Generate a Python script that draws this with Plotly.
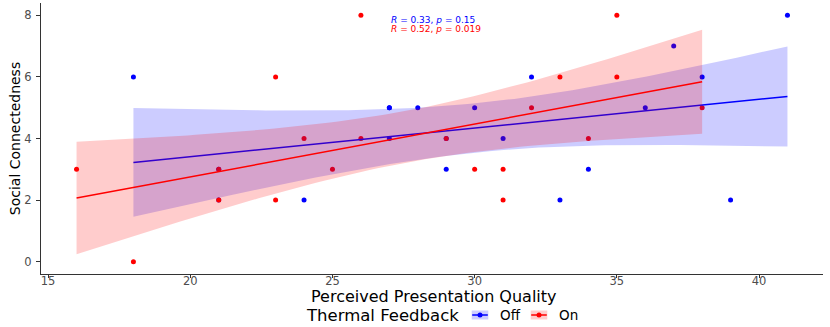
import math
import numpy as np
import plotly.graph_objects as go

# ---- data ----
off_x = [18, 21, 21, 24, 27, 27, 27, 28, 29, 29, 30, 31, 32, 33, 34, 36, 37, 38, 39, 41]
off_y = [6, 2, 3, 2, 5, 5, 4, 5, 3, 4, 5, 4, 6, 2, 3, 5, 7, 6, 2, 8]
on_x = [16, 18, 21, 21, 23, 23, 24, 25, 26, 26, 29, 30, 31, 31, 32, 33, 34, 35, 35, 38]
on_y = [3, 0, 3, 2, 6, 2, 4, 3, 8, 4, 4, 3, 3, 2, 5, 6, 4, 8, 6, 5]
group_names = ["Off", "On"]
stat_labels = ["<i>R</i> = 0.33, <i>p</i> = 0.15", "<i>R</i> = 0.52, <i>p</i> = 0.019"]
x_ticks = [15, 20, 25, 30, 35, 40]
y_ticks = [0, 2, 4, 6, 8]


def t_pdf(x, df):
    c = math.exp(math.lgamma((df + 1) / 2) - math.lgamma(df / 2)) / math.sqrt(df * math.pi)
    return c * (1 + x * x / df) ** (-(df + 1) / 2)


def t_cdf(t, df):
    xs = np.linspace(0, abs(t), 4001)
    v = 0.5 + np.trapezoid(t_pdf(xs, df), xs)
    return v if t >= 0 else 1 - v


def t_q(p, df):
    lo, hi = 0.0, 20.0
    for _ in range(60):
        m = (lo + hi) / 2
        if t_cdf(m, df) < p:
            lo = m
        else:
            hi = m
    return (lo + hi) / 2


def fit(x, y):
    x = np.asarray(x, float); y = np.asarray(y, float)
    n = len(x); mx = x.mean(); my = y.mean()
    sxx = ((x - mx) ** 2).sum(); sxy = ((x - mx) * (y - my)).sum()
    b = sxy / sxx; a = my - b * mx
    s = math.sqrt(((y - (a + b * x)) ** 2).sum() / (n - 2))
    tc = t_q(0.975, n - 2)
    xs = np.linspace(x.min(), x.max(), 80)
    yh = a + b * xs
    se = s * np.sqrt(1 / n + (xs - mx) ** 2 / sxx)
    return xs, yh, yh - tc * se, yh + tc * se


W, H = 830, 327
ML, MR, MT, MB = 41, 7, 3, 53
PW, PH = W - ML - MR, H - MT - MB


def pxx(px):
    return (px - ML) / PW


def pxy(py):
    return (H - MB - py) / PH


BLUE, RED = "#0000FF", "#FF0000"
FILLS = ["rgba(0,0,255,0.2)", "rgba(255,0,0,0.2)"]
COLS = [BLUE, RED]
groups = [(off_x, off_y), (on_x, on_y)]

fig = go.Figure()
for (xx, yy), col, nm in zip(groups, COLS, group_names):
    fig.add_trace(go.Scatter(x=xx, y=yy, mode="markers", name=nm,
                             marker=dict(color=col, size=5), showlegend=False))
for (xx, yy), col, fc, nm in zip(groups, COLS, FILLS, group_names):
    xs, yh, lo, hi = fit(xx, yy)
    fig.add_trace(go.Scatter(x=list(xs) + list(xs[::-1]), y=list(hi) + list(lo[::-1]), fill="toself",
                             fillcolor=fc, line=dict(width=0), mode="lines", showlegend=False,
                             hoverinfo="skip", name=nm + " 95% CI"))
    fig.add_trace(go.Scatter(x=xs, y=yh, mode="lines", line=dict(color=col, width=1.5),
                             showlegend=False, name=nm + " fit"))

FONT = "DejaVu Sans"
fig.update_layout(
    width=W, height=H, margin=dict(l=ML, r=MR, t=MT, b=MB, autoexpand=False),
    plot_bgcolor="white", paper_bgcolor="white", showlegend=False,
    font=dict(family=FONT, color="black"),
    xaxis=dict(range=[14.75, 42.25], tickvals=x_ticks, ticks="outside", ticklen=3,
               tickcolor="#333333", showline=True, linecolor="#333333", linewidth=1, showgrid=False,
               zeroline=False, tickfont=dict(size=11.5, color="#4D4D4D"), automargin=False,
               ticklabelstandoff=-7),
    yaxis=dict(range=[-0.4, 8.4], tickvals=y_ticks, ticks="outside", ticklen=4,
               tickcolor="#333333", showline=True, linecolor="#333333", linewidth=1, showgrid=False,
               zeroline=False, tickfont=dict(size=11.5, color="#4D4D4D"), automargin=False,
               ticklabelstandoff=2,
               title=dict(text="Social Connectedness", font=dict(size=14), standoff=0)),
)

# x-axis title
fig.add_annotation(x=pxx(434), y=pxy(296.5), xref="paper", yref="paper",
                   text="Perceived Presentation Quality", showarrow=False,
                   xanchor="center", yanchor="middle", font=dict(size=16))

# correlation labels
for lab, col, yv in zip(stat_labels, COLS, [7.84, 7.57]):
    fig.add_annotation(x=27, y=yv, xref="x", yref="y", text=lab, showarrow=False,
                       xanchor="left", font=dict(size=9, color=col))

# legend (bottom, ggplot style)
ly = 315
fig.add_annotation(x=pxx(461), y=pxy(ly), xref="paper", yref="paper", text="Thermal Feedback",
                   showarrow=False, xanchor="right", yanchor="middle", font=dict(size=16.5))
for k, (nm, col, fc) in enumerate(zip(group_names, COLS, FILLS)):
    x0 = 471.7 + 59 * k
    x1 = x0 + 16.6
    cx = (x0 + x1) / 2
    fig.add_shape(type="rect", xref="paper", yref="paper", x0=pxx(x0), x1=pxx(x1),
                  y0=pxy(ly + 4.5), y1=pxy(ly - 4.5), fillcolor=fc, line=dict(width=0))
    fig.add_shape(type="line", xref="paper", yref="paper", x0=pxx(x0 + 0.5), x1=pxx(x1 - 0.5),
                  y0=pxy(ly), y1=pxy(ly), line=dict(color=col, width=1.5))
    fig.add_shape(type="circle", xref="paper", yref="paper", x0=pxx(cx - 2.5), x1=pxx(cx + 2.5),
                  y0=pxy(ly + 2.5), y1=pxy(ly - 2.5), fillcolor=col, line=dict(width=0))
    fig.add_annotation(x=pxx(x1 + 10), y=pxy(ly), xref="paper", yref="paper", text=nm,
                       showarrow=False, xanchor="left", yanchor="middle", font=dict(size=13.5))

fig.write_html("out.html", config={"displayModeBar": False},
               post_script="document.body.style.margin='0px';document.body.style.overflow='hidden';")
